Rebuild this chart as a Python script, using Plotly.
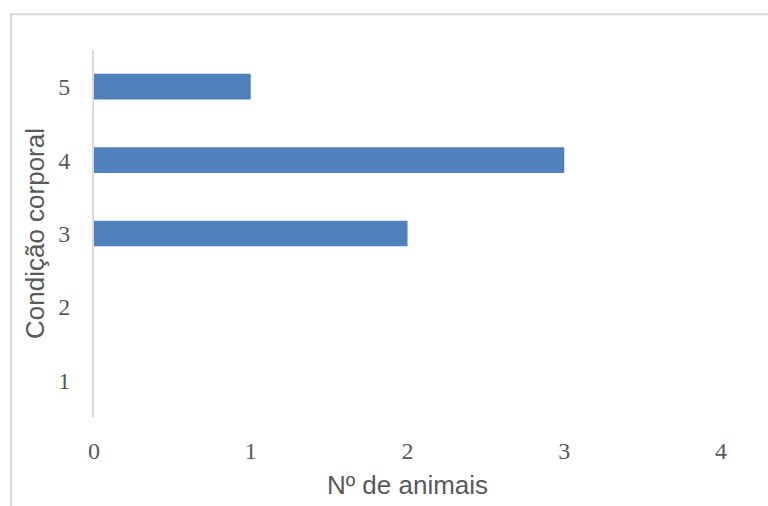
import plotly.graph_objects as go

categories = [1, 2, 3, 4, 5]
animals = [0, 0, 2, 3, 1]
x_ticks = [0, 1, 2, 3, 4]

fig = go.Figure()
fig.add_trace(go.Bar(
    y=categories, x=animals, orientation="h",
    marker=dict(color="#4F81BD", line=dict(width=0)),
    showlegend=False,
))

L, R, T, B = 94, 47, 50, 86
W, H = 768, 506
pw, ph = W - L - R, H - T - B

fig.update_layout(
    width=W, height=H,
    margin=dict(l=L, r=R, t=T, b=B, pad=0),
    paper_bgcolor="white", plot_bgcolor="white",
    bargap=0.65,
    xaxis=dict(
        range=[0, 4], tickvals=x_ticks, ticktext=[str(v) for v in x_ticks],
        showgrid=False, zeroline=False, showline=False, ticks="",
        tickfont=dict(family="Liberation Serif", size=24, color="#595959"),
        ticklabelstandoff=17,
        title=dict(text="Nº de animais", font=dict(family="Liberation Sans", size=26, color="#595959"), standoff=12),
    ),
    yaxis=dict(
        range=[0.5, 5.5], tickvals=categories, ticktext=[str(c) for c in categories],
        showgrid=False, zeroline=False, showline=True, linecolor="#D9D9D9", linewidth=2,
        ticks="",
        tickfont=dict(family="Liberation Serif", size=24, color="#595959"),
        ticklabelstandoff=17,
        title=dict(text="Condição corporal", font=dict(family="Liberation Sans", size=26, color="#595959"), standoff=6),
    ),
    shapes=[dict(
        type="rect", xref="paper", yref="paper",
        x0=(11 - L) / pw, x1=(W + 20 - L) / pw,
        y0=-(B + 20) / ph, y1=1 + (T - 14) / ph,
        line=dict(color="#D9D9D9", width=2), fillcolor="rgba(0,0,0,0)", layer="below",
    )],
)

fig.write_html("out.html")
